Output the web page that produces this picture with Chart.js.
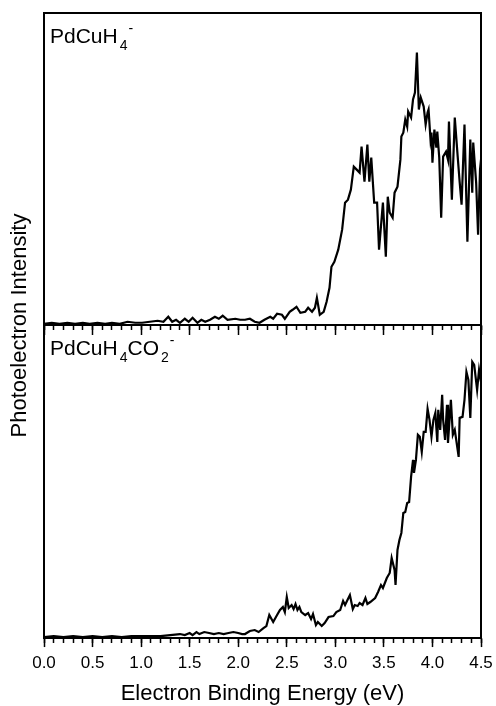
<!DOCTYPE html>
<html>
<head>
<meta charset="utf-8">
<script src="https://cdn.jsdelivr.net/npm/chart.js@4.4.1/dist/chart.umd.min.js"></script>
<style>
  html, body { margin: 0; padding: 0; background: #fff; }
  #wrap { position: relative; width: 496px; height: 706px; }
  #spectra { position: absolute; left: 0; top: 0; }
  .tag {
    position: absolute; left: 50px;
    font: 21px/21px "Liberation Sans", Arial, sans-serif;
    color: #000; white-space: nowrap;
  }
  .tag sub, .tag sup { font-size: 14px; line-height: 0; }
  .tag sub { vertical-align: -7px; margin-left: 2px; }
  .tag sup { vertical-align: 10px; margin-left: 1px; }
</style>
</head>
<body>
<div id="wrap">
  <canvas id="spectra" width="496" height="706"></canvas>
  <div class="tag" style="top:25px">PdCuH<sub>4</sub><sup>-</sup></div>
  <div class="tag" style="top:337px">PdCuH<sub>4</sub>CO<sub>2</sub><sup>-</sup></div>
</div>
<script>
// ===== DATA (eV, arbitrary intensity) =====

const topEnergy = [
    0.00, 0.08, 0.16, 0.24, 0.32, 0.40, 0.47, 0.55, 0.63, 0.70,
    0.78, 0.86, 0.94, 1.01, 1.09, 1.17, 1.23, 1.28, 1.32, 1.36,
    1.40, 1.45, 1.49, 1.53, 1.58, 1.62, 1.66, 1.71, 1.76, 1.80,
    1.84, 1.89, 1.97, 2.02, 2.07, 2.12, 2.17, 2.22, 2.27, 2.33,
    2.36, 2.40, 2.45, 2.48, 2.53, 2.56, 2.60, 2.64, 2.69, 2.72,
    2.76, 2.79, 2.81, 2.84, 2.88, 2.91, 2.94, 2.96, 2.99, 3.03,
    3.07, 3.10, 3.13, 3.16, 3.19, 3.22, 3.25, 3.27, 3.30, 3.33,
    3.35, 3.37, 3.40, 3.43, 3.45, 3.49, 3.52, 3.54, 3.56, 3.59,
    3.61, 3.64, 3.67, 3.68, 3.70, 3.72, 3.74, 3.75, 3.78, 3.80,
    3.82, 3.84, 3.86, 3.88, 3.91, 3.93, 3.95, 3.96, 3.98, 3.99,
    4.00, 4.02, 4.04, 4.05, 4.07, 4.09, 4.11, 4.14, 4.16, 4.17,
    4.20, 4.23, 4.26, 4.28, 4.30, 4.33, 4.36, 4.39, 4.41, 4.42,
    4.45, 4.47, 4.49, 4.50
];

const topIntensity = [
    1, 2, 1, 2, 1, 2, 1, 2, 1, 2,
    1, 3, 2, 2, 3, 4, 3, 8, 3, 5,
    2, 6, 3, 7, 2, 5, 3, 5, 8, 6,
    9, 5, 6, 5, 5, 6, 3, 2, 5, 8,
    6, 11, 10, 6, 13, 15, 18, 12, 13, 17,
    13, 17, 27, 10, 13, 23, 37, 58, 63, 75,
    95, 122, 125, 135, 158, 155, 152, 178, 143, 180,
    143, 167, 122, 122, 75, 122, 68, 128, 112, 107,
    132, 138, 165, 188, 192, 205, 198, 213, 207, 225,
    232, 272, 215, 227, 218, 200, 212, 215, 185, 192,
    162, 195, 177, 193, 167, 107, 168, 173, 165, 203,
    125, 207, 168, 143, 120, 200, 83, 185, 132, 182,
    142, 90, 155, 165
];

const bottomEnergy = [
    0.00, 0.10, 0.20, 0.30, 0.40, 0.50, 0.60, 0.70, 0.80, 0.90,
    1.00, 1.10, 1.20, 1.30, 1.40, 1.45, 1.50, 1.53, 1.57, 1.60,
    1.65, 1.70, 1.75, 1.80, 1.85, 1.90, 1.95, 2.00, 2.04, 2.07,
    2.12, 2.17, 2.21, 2.26, 2.29, 2.32, 2.36, 2.40, 2.43, 2.46,
    2.48, 2.50, 2.52, 2.55, 2.57, 2.59, 2.61, 2.63, 2.65, 2.69,
    2.72, 2.75, 2.77, 2.80, 2.82, 2.86, 2.89, 2.93, 2.98, 3.01,
    3.05, 3.08, 3.10, 3.13, 3.15, 3.18, 3.20, 3.23, 3.25, 3.28,
    3.31, 3.33, 3.36, 3.41, 3.44, 3.47, 3.49, 3.53, 3.56, 3.58,
    3.61, 3.62, 3.64, 3.66, 3.68, 3.70, 3.72, 3.74, 3.76, 3.78,
    3.80, 3.81, 3.83, 3.85, 3.87, 3.89, 3.91, 3.93, 3.95, 3.97,
    3.99, 4.01, 4.03, 4.05, 4.06, 4.08, 4.10, 4.11, 4.13, 4.15,
    4.16, 4.19, 4.21, 4.23, 4.27, 4.28, 4.31, 4.33, 4.35, 4.37,
    4.39, 4.41, 4.43, 4.46, 4.48, 4.50
];

const bottomIntensity = [
    1, 2, 1, 2, 1, 2, 1, 2, 1, 2,
    2, 2, 2, 3, 4, 3, 5, 3, 6, 4,
    6, 5, 4, 5, 4, 5, 6, 5, 4, 4,
    7, 8, 6, 10, 12, 23, 16, 23, 28, 31,
    26, 41, 30, 33, 29, 34, 28, 31, 26, 23,
    25, 19, 24, 13, 16, 12, 15, 21, 22, 26,
    28, 37, 33, 39, 43, 29, 33, 32, 35, 33,
    40, 34, 36, 40, 46, 53, 50, 60, 65, 80,
    68, 53, 88, 98, 105, 125, 126, 135, 136, 161,
    178, 165, 178, 203, 201, 186, 206, 206, 229, 218,
    201, 218, 225, 196, 228, 208, 243, 218, 198, 233,
    195, 238, 203, 208, 181, 220, 221, 238, 266, 258,
    220, 276, 273, 248, 268, 256
];

const energyTicks = [0.0, 0.5, 1.0, 1.5, 2.0, 2.5, 3.0, 3.5, 4.0, 4.5];
const minorStep = 0.1;

// ===== HELPERS =====

const black = "#000000";

Chart.defaults.font.family = "'Liberation Sans', Arial, sans-serif";
Chart.defaults.color = black;

function toPoints(xs, ys) {
    return xs.map((x, i) => ({ x: x, y: ys[i] }));
}

function majorTicks(axis) {
    axis.ticks = energyTicks.map(v => ({ value: v }));
}

// x axis that only draws tick marks (no labels)
function tickAxis(position, length, major) {
    const axis = {
        type: "linear",
        axis: "x",
        position: position,
        min: 0,
        max: 4.5,
        ticks: { display: false, stepSize: minorStep, maxTicksLimit: 100 },
        grid: { drawOnChartArea: false, tickLength: length, tickWidth: 1.5, tickColor: black },
        border: { display: major, color: black, width: 2 }
    };
    if (major) axis.afterBuildTicks = majorTicks;
    return axis;
}

// plain frame line
function frameAxis(position, extra) {
    return Object.assign({
        type: "linear",
        position: position,
        ticks: { display: false },
        grid: { display: false, drawTicks: false },
        border: { display: true, color: black, width: 2 }
    }, extra || {});
}

// ===== CHART =====

const ctx = document.getElementById("spectra").getContext("2d");

new Chart(ctx, {

    type: "line",

    data: {
        datasets: [
            {
                data: toPoints(topEnergy, topIntensity),
                xAxisID: "x",
                yAxisID: "yTop",
                borderColor: black,
                borderWidth: 2.2,
                pointRadius: 0,
                tension: 0,
                fill: false
            },
            {
                data: toPoints(bottomEnergy, bottomIntensity),
                xAxisID: "x",
                yAxisID: "yBot",
                borderColor: black,
                borderWidth: 2.2,
                pointRadius: 0,
                tension: 0,
                fill: false
            }
        ]
    },

    options: {

        responsive: false,
        animation: false,
        events: [],

        layout: {
            padding: { top: 13, right: 15, bottom: 0, left: 7 }
        },

        plugins: {
            legend: { display: false },
            tooltip: { enabled: false }
        },

        scales: {

            x: {
                type: "linear",
                position: "bottom",
                min: 0,
                max: 4.5,
                afterBuildTicks: majorTicks,
                ticks: {
                    color: black,
                    font: { size: 17, lineHeight: 1.55 },
                    padding: 3,
                    autoSkip: false,
                    maxRotation: 0,
                    callback: v => Number(v).toFixed(1)
                },
                grid: { drawOnChartArea: false, tickLength: 9, tickWidth: 1.5, tickColor: black },
                border: { color: black, width: 2 },
                title: {
                    display: true,
                    text: "Electron Binding Energy (eV)",
                    color: black,
                    font: { size: 22, lineHeight: 1 },
                    padding: { top: 3.6, bottom: 1 }
                }
            },

            xMinor: tickAxis({ yBot: 0 }, 5, false),
            xMid: tickAxis({ yTop: 0 }, 9, true),
            xMidMinor: tickAxis({ yTop: 0 }, 5, false),

            xTop: frameAxis("top", { axis: "x" }),
            yRight: frameAxis("right", { axis: "y" }),

            yTop: frameAxis("left", {
                stack: "panels",
                stackWeight: 311.5,
                weight: 2,
                min: 0,
                max: 311.5
            }),

            yBot: frameAxis("left", {
                stack: "panels",
                stackWeight: 313,
                weight: 1,
                min: 0,
                max: 313
            }),

            yTitle: {
                type: "linear",
                position: "left",
                weight: 10,
                ticks: { display: false },
                grid: { display: false, drawTicks: false },
                border: { display: false },
                title: {
                    display: true,
                    text: "Photoelectron Intensity",
                    color: black,
                    font: { size: 22 },
                    padding: { top: 0, bottom: 10.6 }
                }
            }
        }
    }
});
</script>
</body>
</html>
